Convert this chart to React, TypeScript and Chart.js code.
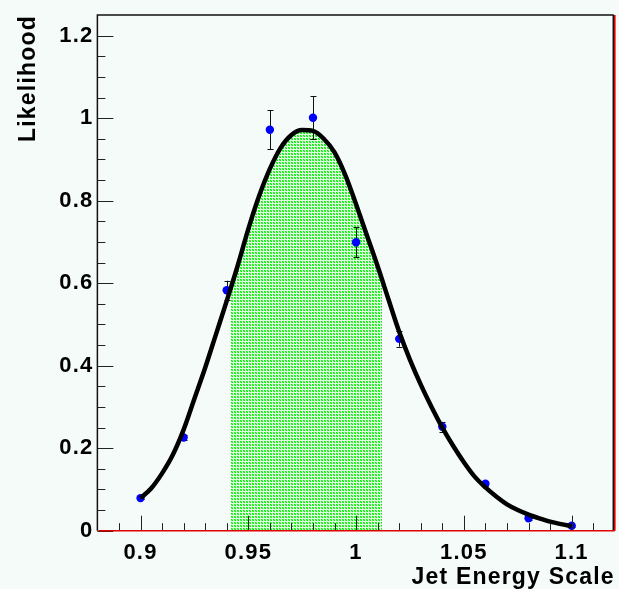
import React, { useEffect, useRef } from "react";
import { Chart, registerables } from "chart.js";

// Measured points with symmetric errors
const pointX = [0.9, 0.92, 0.94, 0.96, 0.98, 1.0, 1.02, 1.04, 1.06, 1.08, 1.1];
const pointY = [0.079, 0.226, 0.583, 0.972, 1.001, 0.699, 0.465, 0.252, 0.114, 0.03, 0.012];
const pointErr = [0.003, 0.005, 0.023, 0.047, 0.052, 0.036, 0.019, 0.012, 0.006, 0.003, 0.002];

// Fitted curve
const curveX = [
  0.9, 0.905, 0.91, 0.915, 0.92, 0.925, 0.93, 0.935, 0.94, 0.945, 0.95, 0.955, 0.96, 0.965,
  0.97, 0.975, 0.98, 0.985, 0.99, 0.995, 1.0, 1.005, 1.01, 1.015, 1.02, 1.025, 1.03, 1.035,
  1.04, 1.045, 1.05, 1.055, 1.06, 1.065, 1.07, 1.075, 1.08, 1.085, 1.09, 1.095, 1.1,
];
const curveY = [
  0.079, 0.103, 0.139, 0.184, 0.245, 0.32, 0.395, 0.476, 0.557, 0.641, 0.731, 0.811, 0.877, 0.928,
  0.959, 0.971, 0.969, 0.95, 0.917, 0.862, 0.791, 0.716, 0.641, 0.561, 0.482, 0.414, 0.354, 0.3,
  0.25, 0.206, 0.166, 0.131, 0.105, 0.083, 0.064, 0.05, 0.039, 0.03, 0.022, 0.016, 0.011,
];

// Shaded interval under the curve
const bandRange = [0.942, 1.012];

// Axes
const xRange = [0.88, 1.12];
const yRange = [0, 1.25];
const xTickValues = [0.9, 0.95, 1, 1.05, 1.1];
const xTickLabels = ["0.9", "0.95", "1", "1.05", "1.1"];
const yTickValues = [0, 0.2, 0.4, 0.6, 0.8, 1, 1.2];
const yTickLabels = ["0", "0.2", "0.4", "0.6", "0.8", "1", "1.2"];
const xMinorTicks = [
  0.89, 0.91, 0.92, 0.93, 0.94, 0.96, 0.97, 0.98, 0.99, 1.01, 1.02, 1.03, 1.04, 1.06, 1.07,
  1.08, 1.09, 1.11,
];
const yMinorTicks = [
  0.05, 0.1, 0.15, 0.25, 0.3, 0.35, 0.45, 0.5, 0.55, 0.65, 0.7, 0.75, 0.85, 0.9, 0.95, 1.05,
  1.1, 1.15,
];
const xTitle = "Jet Energy Scale";
const yTitle = "Likelihood";

const BG = "#f5fbf8";
const FONT = "'Liberation Sans', Arial, Helvetica, sans-serif";

function makePattern(): CanvasPattern | string {
  const c = document.createElement("canvas");
  c.width = 3;
  c.height = 3;
  const g = c.getContext("2d");
  if (!g) return "#93f693";
  g.fillStyle = "#e0fce0";
  g.fillRect(0, 0, 3, 3);
  g.fillStyle = "#00ee00";
  g.fillRect(0, 0, 1, 1);
  g.fillRect(1, 1, 1, 1);
  g.fillStyle = "#66f066";
  g.fillRect(1, 0, 1, 1);
  g.fillRect(0, 1, 1, 1);
  const p = g.createPattern(c, "repeat");
  return p || "#93f693";
}

const rootStyle = {
  id: "rootStyle",
  beforeLayout(chart: any) {
    try {
      chart.ctx.letterSpacing = "1.2px";
    } catch (e) {
      /* ignore */
    }
  },
  beforeDraw(chart: any) {
    const { ctx, width, height } = chart;
    try {
      ctx.letterSpacing = "1.2px";
    } catch (e) {
      /* ignore */
    }
    ctx.save();
    ctx.fillStyle = BG;
    ctx.fillRect(0, 0, width, height);
    ctx.restore();
  },
  beforeDatasetDraw(chart: any, args: any) {
    const { ctx, chartArea, scales } = chart;
    if (args.index === 2) {
      const x0 = scales.x.getPixelForValue(bandRange[0]);
      const x1 = scales.x.getPixelForValue(bandRange[1]);
      ctx.save();
      ctx.beginPath();
      ctx.rect(x0, chartArea.top, x1 - x0, chartArea.bottom - chartArea.top);
      ctx.clip();
    }
    if (args.index === 1) {
      ctx.save();
      ctx.strokeStyle = "#111";
      ctx.lineWidth = 1;
      for (let i = 0; i < pointX.length; i++) {
        const px = Math.round(scales.x.getPixelForValue(pointX[i])) + 0.5;
        const yt = scales.y.getPixelForValue(pointY[i] + pointErr[i]);
        const yb = scales.y.getPixelForValue(pointY[i] - pointErr[i]);
        ctx.beginPath();
        ctx.moveTo(px, yt);
        ctx.lineTo(px, yb);
        ctx.moveTo(px - 3, Math.round(yt) + 0.5);
        ctx.lineTo(px + 3, Math.round(yt) + 0.5);
        ctx.moveTo(px - 3, Math.round(yb) + 0.5);
        ctx.lineTo(px + 3, Math.round(yb) + 0.5);
        ctx.stroke();
      }
      ctx.restore();
    }
  },
  afterDatasetDraw(chart: any, args: any) {
    if (args.index === 2) chart.ctx.restore();
  },
  afterDatasetsDraw(chart: any) {
    const { ctx, chartArea, scales } = chart;
    const { left, right, top, bottom } = chartArea;
    ctx.save();
    ctx.strokeStyle = "#222";
    ctx.lineWidth = 1;
    ctx.beginPath();
    xTickValues.forEach((v) => {
      const px = Math.round(scales.x.getPixelForValue(v)) + 0.5;
      ctx.moveTo(px, bottom);
      ctx.lineTo(px, bottom - 15);
    });
    xMinorTicks.forEach((v) => {
      const px = Math.round(scales.x.getPixelForValue(v)) + 0.5;
      ctx.moveTo(px, bottom);
      ctx.lineTo(px, bottom - 7.5);
    });
    yTickValues.forEach((v) => {
      const py = Math.round(scales.y.getPixelForValue(v)) + 0.5;
      ctx.moveTo(left, py);
      ctx.lineTo(left + 16, py);
    });
    yMinorTicks.forEach((v) => {
      const py = Math.round(scales.y.getPixelForValue(v)) + 0.5;
      ctx.moveTo(left, py);
      ctx.lineTo(left + 8, py);
    });
    ctx.stroke();

    // frame
    ctx.strokeStyle = "#111";
    ctx.lineWidth = 1.5;
    ctx.beginPath();
    ctx.moveTo(right - 1, top);
    ctx.lineTo(left, top);
    ctx.lineTo(left, bottom);
    ctx.moveTo(right - 1.5, top);
    ctx.lineTo(right - 1.5, bottom);
    ctx.stroke();
    ctx.strokeStyle = "#e00000";
    ctx.lineWidth = 1.6;
    ctx.beginPath();
    ctx.moveTo(left + 1, bottom);
    ctx.lineTo(right, bottom);
    ctx.moveTo(right, top);
    ctx.lineTo(right, bottom);
    ctx.stroke();
    ctx.restore();
  },
};

// Registered before the built-ins so the band clip is set before the Filler draws
Chart.register(rootStyle as any);
Chart.register(...registerables);

export default function App() {
  const ref = useRef<HTMLCanvasElement | null>(null);

  useEffect(() => {
    if (!ref.current) return;
    const pattern = makePattern();
    const curveData = curveX.map((x, i) => ({ x, y: curveY[i] }));
    const pointData = pointX.map((x, i) => ({ x, y: pointY[i] }));

    const chart = new Chart(ref.current, {
      type: "scatter",
      data: {
        datasets: [
          {
            data: curveData,
            showLine: true,
            borderColor: "#000",
            borderWidth: 4.5,
            pointRadius: 0,
            cubicInterpolationMode: "monotone",
            fill: false,
          },
          {
            data: pointData,
            showLine: false,
            pointRadius: 4.2,
            pointBackgroundColor: "#0000ff",
            pointBorderColor: "#0000ff",
            pointBorderWidth: 0,
          },
          {
            data: curveData,
            showLine: true,
            borderWidth: 0,
            borderColor: "rgba(0,0,0,0)",
            backgroundColor: pattern as any,
            pointRadius: 0,
            cubicInterpolationMode: "monotone",
            fill: "origin",
          },
        ] as any,
      },
      options: {
        responsive: false,
        maintainAspectRatio: false,
        animation: false,
        events: [],
        layout: { padding: { left: 0, top: 14, right: 2, bottom: 0 } },
        plugins: {
          legend: { display: false },
          tooltip: { enabled: false },
          title: { display: false },
        },
        scales: {
          x: {
            type: "linear",
            min: xRange[0],
            max: xRange[1],
            afterBuildTicks: (scale: any) => {
              scale.ticks = xTickValues.map((v) => ({ value: v }));
            },
            grid: { display: false, drawTicks: false },
            border: { display: false },
            ticks: {
              padding: 11.4,
              color: "#000",
              maxRotation: 0,
              autoSkip: false,
              font: { family: FONT, weight: "bold", size: 22, lineHeight: 1 },
              callback: (v: any) => {
                const i = xTickValues.indexOf(v);
                return i >= 0 ? xTickLabels[i] : "";
              },
            },
            title: {
              display: true,
              text: xTitle,
              align: "end",
              color: "#000",
              padding: { top: -9, bottom: -0.5 },
              font: { family: FONT, weight: "bold", size: 23, lineHeight: 1 },
            },
          },
          y: {
            type: "linear",
            min: yRange[0],
            max: yRange[1],
            afterBuildTicks: (scale: any) => {
              scale.ticks = yTickValues.map((v) => ({ value: v }));
            },
            grid: { display: false, drawTicks: false },
            border: { display: false },
            ticks: {
              padding: 4,
              color: "#000",
              autoSkip: false,
              font: { family: FONT, weight: "bold", size: 22, lineHeight: 1 },
              callback: (v: any) => {
                const i = yTickValues.indexOf(v);
                return i >= 0 ? yTickLabels[i] : "";
              },
            },
            title: {
              display: true,
              text: yTitle,
              align: "end",
              color: "#000",
              padding: { top: 17.5, bottom: 14.7 },
              font: { family: FONT, weight: "bold", size: 23, lineHeight: 1 },
            },
          },
        },
      },
    } as any);

    return () => chart.destroy();
  }, []);

  return (
    <div style={{ position: "fixed", left: 0, top: 0, width: 619, height: 589, background: BG }}>
      <canvas ref={ref} width={619} height={589} style={{ display: "block" }} />
    </div>
  );
}
